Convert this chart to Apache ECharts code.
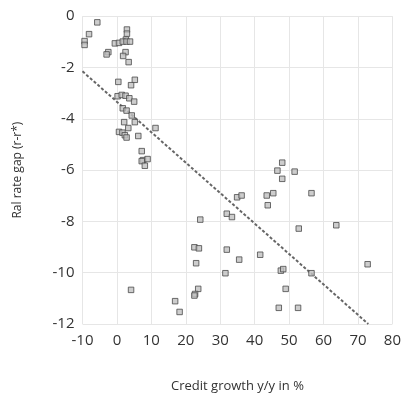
<!DOCTYPE html>
<html>
<head>
<meta charset="utf-8">
<script src="https://cdn.jsdelivr.net/npm/echarts@6/dist/echarts.min.js"></script>
<style>html,body{margin:0;padding:0;background:#fff}#c{width:404px;height:398px}</style>
</head>
<body>
<div id="c"></div>
<script>
const creditGrowth = [-5.7,-8.1,-9.4,-9.4,2.9,2.9,2.6,-0.6,0.6,1.7,2.8,3.8,-2.5,-3.0,2.5,1.8,3.4,
  0.4,5.2,4.1,0.2,1.4,2.5,3.6,5.0,1.7,2.8,4.3,5.2,2.1,3.3,0.6,1.6,2.3,2.8,6.2,11.2,7.2,7.6,7.2,8.9,8.1,
  48.0,46.6,51.6,48.0,43.5,45.4,34.9,36.2,56.5,43.8,31.9,33.4,24.2,52.8,63.7,
  31.9,22.5,23.8,41.6,35.5,72.8,23.0,31.5,47.6,48.3,56.5,49.0,23.6,22.7,22.5,4.1,16.9,18.2,47.0,52.6];
const rateGap = [-0.24,-0.70,-0.97,-1.12,-0.52,-0.68,-0.91,-1.06,-1.04,-0.99,-0.99,-0.99,-1.40,-1.49,-1.40,-1.55,-1.79,
  -2.56,-2.48,-2.69,-3.12,-3.07,-3.10,-3.20,-3.33,-3.59,-3.68,-3.87,-4.13,-4.13,-4.36,-4.51,-4.54,-4.64,-4.73,-4.67,-4.36,-5.26,-5.61,-5.65,-5.57,-5.83,
  -5.71,-6.02,-6.06,-6.34,-6.99,-6.90,-7.06,-6.99,-6.90,-7.37,-7.70,-7.83,-7.93,-8.28,-8.15,
  -9.10,-9.01,-9.05,-9.30,-9.49,-9.67,-9.63,-10.02,-9.92,-9.86,-10.02,-10.63,-10.63,-10.83,-10.89,-10.67,-11.11,-11.53,-11.37,-11.37];
const trendX = [-10, 73];
const trendY = [-2.15, -12.0];
const xTicks = [-10, 80, 10];
const yTicks = [-12, 0, 2];

const points = creditGrowth.map((x, i) => [x, rateGap[i]]);
const trend = trendX.map((x, i) => [x, trendY[i]]);
const font = '"Open Sans", sans-serif';
const txt = '#333333';
const chart = echarts.init(document.getElementById('c'), null, {renderer: 'canvas'});
chart.setOption({
  animation: false,
  grid: {left: 82.5, right: 11.4, top: 16.2, bottom: 71.2},
  xAxis: {
    type: 'value', min: xTicks[0], max: xTicks[1], interval: xTicks[2],
    name: 'Credit growth y/y in %', nameLocation: 'middle', nameGap: 56,
    nameTextStyle: {fontFamily: font, fontSize: 13, color: txt},
    axisLine: {show: false}, axisTick: {show: false},
    axisLabel: {fontFamily: font, fontSize: 15, color: txt, margin: 9},
    splitLine: {lineStyle: {color: '#e6e6e6', width: 1}}
  },
  yAxis: {
    type: 'value', min: yTicks[0], max: yTicks[1], interval: yTicks[2],
    name: 'Ral rate gap (r-r*)', nameLocation: 'middle', nameGap: 59,
    nameTextStyle: {fontFamily: font, fontSize: 12, color: txt},
    axisLine: {show: false}, axisTick: {show: false},
    axisLabel: {fontFamily: font, fontSize: 15, color: txt, margin: 8},
    splitLine: {lineStyle: {color: '#e6e6e6', width: 1}}
  },
  series: [
    {
      type: 'line', data: trend, symbol: 'none', z: 1,
      lineStyle: {color: '#666666', width: 2, type: [3, 2]}
    },
    {
      type: 'scatter', data: points, symbol: 'rect', symbolSize: 5.5, z: 2,
      itemStyle: {color: '#c0c0c0', borderColor: '#4a4a4a', borderWidth: 1}
    }
  ]
});
</script>
</body>
</html>
